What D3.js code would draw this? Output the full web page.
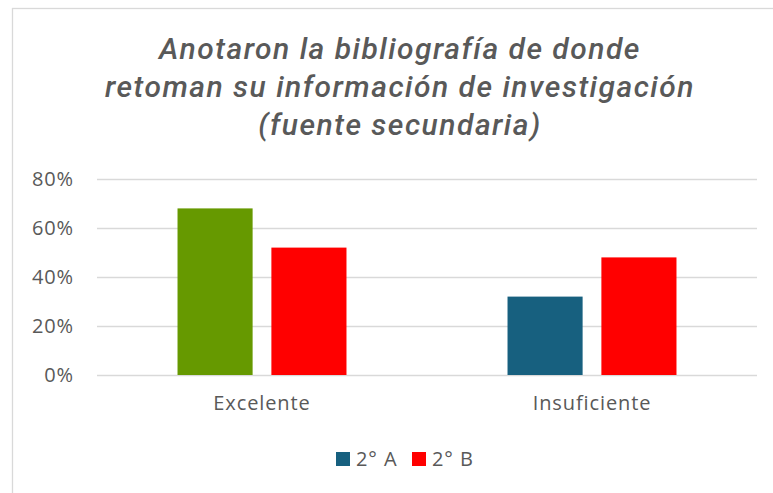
<!DOCTYPE html>
<html>
<head>
<meta charset="utf-8">
<script src="https://cdn.jsdelivr.net/npm/d3@7"></script>
<style>
  body { margin: 0; background: #fff; }
  text { font-family: "Open Sans", sans-serif; fill: #595959; }
</style>
</head>
<body>
<div id="viz"></div>
<script>
// chart data
var categories = ["Excelente", "Insuficiente"];
var seriesNames = ["2° A", "2° B"];
var values2A = [0.68, 0.32];
var values2B = [0.52, 0.48];
var yTickValues = [0, 0.2, 0.4, 0.6, 0.8];
var titleLines = [
  "Anotaron la bibliografía de donde",
  "retoman su información de investigación",
  "(fuente secundaria)"
];

var width = 773,
    height = 493,
    margin = {top: 179, right: 16, bottom: 118, left: 97};

var seriesColors = ["#17607f", "#ff0000"];
// first bar of 2° A was recoloured in the original
var pointColors = [["#669900", null], [null, null]];

var data = categories.map(function(c, i) {
  return {category: c, values: [values2A[i], values2B[i]]};
});

var svg = d3.select("#viz").append("svg")
  .attr("width", width)
  .attr("height", height);

// chart frame (runs off the right and bottom edges)
svg.append("rect")
  .attr("x", 12.5)
  .attr("y", 8.5)
  .attr("width", width + 20)
  .attr("height", height + 20)
  .attr("fill", "#fff")
  .attr("stroke", "#d9d9d9")
  .attr("stroke-width", 1.3);

var x0 = d3.scaleBand()
  .domain(categories)
  .range([margin.left, width - margin.right])
  .paddingInner(0.488)
  .paddingOuter(0.244);

var x1 = d3.scaleBand()
  .domain(seriesNames)
  .range([0, x0.bandwidth()])
  .paddingInner(0.2);

var y = d3.scaleLinear()
  .domain([0, 0.8])
  .range([height - margin.bottom, margin.top]);

// title
svg.append("text")
  .attr("text-anchor", "middle")
  .attr("font-size", 30)
  .attr("font-style", "italic")
  .attr("font-weight", 500)
  .attr("letter-spacing", 1.5)
  .style("font-family", "Roboto, sans-serif")
  .selectAll("tspan")
  .data(titleLines)
  .join("tspan")
  .attr("x", 400)
  .attr("y", function(d, i) { return 59 + i * 38; })
  .text(function(d) { return d; });

var labelFont = function(sel) {
  sel.attr("font-size", 20)
    .attr("letter-spacing", 0.9)
    .attr("fill", "#595959")
    .style("font-family", "'Open Sans', sans-serif");
};

// grid + y labels
var yAxis = svg.append("g")
  .attr("transform", "translate(" + margin.left + ",0)")
  .call(d3.axisLeft(y)
    .tickValues(yTickValues)
    .tickFormat(d3.format(".0%"))
    .tickSize(-(width - margin.left - margin.right))
    .tickPadding(23));
yAxis.select(".domain").remove();
yAxis.selectAll(".tick line")
  .attr("stroke", "#d9d9d9")
  .attr("stroke-width", 1.4);
yAxis.selectAll(".tick text").call(labelFont);

// bars
var groups = svg.append("g")
  .selectAll("g")
  .data(data)
  .join("g")
  .attr("transform", function(d) { return "translate(" + x0(d.category) + ",0)"; });

groups.selectAll("rect")
  .data(function(d, ci) {
    return d.values.map(function(v, si) { return {ci: ci, si: si, value: v}; });
  })
  .join("rect")
  .attr("x", function(d) { return x1(seriesNames[d.si]); })
  .attr("y", function(d) { return y(d.value); })
  .attr("width", x1.bandwidth())
  .attr("height", function(d) { return y(0) - y(d.value); })
  .attr("fill", function(d) { return pointColors[d.ci][d.si] || seriesColors[d.si]; });

// category labels
var xAxis = svg.append("g")
  .attr("transform", "translate(0," + y(0) + ")")
  .call(d3.axisBottom(x0).tickSize(0).tickPadding(21));
xAxis.select(".domain").remove();
xAxis.selectAll(".tick text").call(labelFont);

// legend
var legend = svg.append("g")
  .attr("transform", "translate(336,452)");
var legendItems = legend.selectAll("g")
  .data(seriesNames)
  .join("g")
  .attr("transform", function(d, i) { return "translate(" + (i * 76) + ",0)"; });
legendItems.append("rect")
  .attr("width", 14)
  .attr("height", 14)
  .attr("fill", function(d, i) { return seriesColors[i]; });
legendItems.append("text")
  .attr("x", 20)
  .attr("y", 14)
  .call(labelFont)
  .text(function(d) { return d; });
</script>
</body>
</html>
